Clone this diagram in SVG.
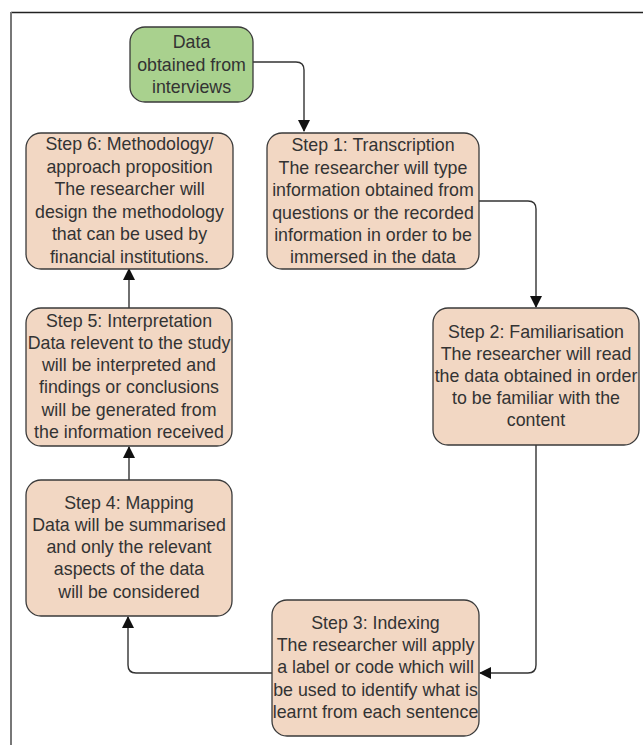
<svg xmlns="http://www.w3.org/2000/svg" width="643" height="745" viewBox="0 0 643 745">
<style>
.box{fill:#f2d7c3;stroke:#3a3a3a;stroke-width:1.3}
.start{fill:#a9d18e;stroke:#3a3a3a;stroke-width:1.3}
text{font-family:"Liberation Sans",Arial,sans-serif;font-size:17.8px;fill:#333;text-anchor:middle}
.conn{fill:none;stroke:#333;stroke-width:1.4}
</style>
<defs>
<marker id="arr" markerWidth="12" markerHeight="12" refX="11" refY="6" orient="auto" markerUnits="userSpaceOnUse">
<path d="M0,0 L12,6 L0,12 Z" fill="#111"/>
</marker>
</defs>
<rect width="643" height="745" fill="#fff"/>
<g id="frame">
<line x1="11" y1="12.5" x2="643" y2="12.5" stroke="#222" stroke-width="1.5"/>
<line x1="11" y1="12" x2="11" y2="745" stroke="#777" stroke-width="2"/>
</g>
<g id="connectors">
<path class="conn" d="M253,62 H296 Q304,62 304,70 V131" marker-end="url(#arr)"/>
<path class="conn" d="M479,201 H528 Q536,201 536,209 V307" marker-end="url(#arr)"/>
<path class="conn" d="M536,445 V665 Q536,673 528,673 H480" marker-end="url(#arr)"/>
<path class="conn" d="M272,673 H136 Q128,673 128,665 V617" marker-end="url(#arr)"/>
<path class="conn" d="M129,480 V447" marker-end="url(#arr)"/>
<path class="conn" d="M129,308 V269" marker-end="url(#arr)"/>
</g>
<g id="start">
<rect class="start" x="130" y="27" width="123" height="75" rx="15"/>
<text x="191.5" y="48">Data</text>
<text x="191.5" y="71">obtained from</text>
<text x="191.5" y="93">interviews</text>
</g>
<g id="step1">
<rect class="box" x="267" y="133" width="212" height="136" rx="15"/>
<text x="373" y="151">Step 1: Transcription</text>
<text x="373" y="174">The researcher will type</text>
<text x="373" y="196">information obtained from</text>
<text x="373" y="219">questions or the recorded</text>
<text x="373" y="241">information in order to be</text>
<text x="373" y="263">immersed in the data</text>
</g>
<g id="step2">
<rect class="box" x="433" y="308" width="206" height="137" rx="15"/>
<text x="536" y="338">Step 2: Familiarisation</text>
<text x="536" y="360">The researcher will read</text>
<text x="536" y="382">the data obtained in order</text>
<text x="536" y="404">to be familiar with the</text>
<text x="536" y="426">content</text>
</g>
<g id="step3">
<rect class="box" x="272" y="600" width="207" height="136" rx="15"/>
<text x="375.5" y="629">Step 3: Indexing</text>
<text x="375.5" y="651">The researcher will apply</text>
<text x="375.5" y="673">a label or code which will</text>
<text x="375.5" y="696">be used to identify what is</text>
<text x="375.5" y="718">learnt from each sentence</text>
</g>
<g id="step4">
<rect class="box" x="26" y="480" width="206" height="136" rx="15"/>
<text x="129" y="509">Step 4: Mapping</text>
<text x="129" y="531">Data will be summarised</text>
<text x="129" y="553">and only the relevant</text>
<text x="129" y="575">aspects of the data</text>
<text x="129" y="598">will be considered</text>
</g>
<g id="step5">
<rect class="box" x="26" y="308" width="206" height="138" rx="15"/>
<text x="129" y="327">Step 5: Interpretation</text>
<text x="129" y="349">Data relevent to the study</text>
<text x="129" y="371">will be interpreted and</text>
<text x="129" y="393">findings or conclusions</text>
<text x="129" y="416">will be generated from</text>
<text x="129" y="438">the information received</text>
</g>
<g id="step6">
<rect class="box" x="26" y="133" width="207" height="136" rx="15"/>
<text x="129.5" y="150">Step 6: Methodology/</text>
<text x="129.5" y="173">approach proposition</text>
<text x="129.5" y="195">The researcher will</text>
<text x="129.5" y="218">design the methodology</text>
<text x="129.5" y="240">that can be used by</text>
<text x="129.5" y="263">financial institutions.</text>
</g>
</svg>
